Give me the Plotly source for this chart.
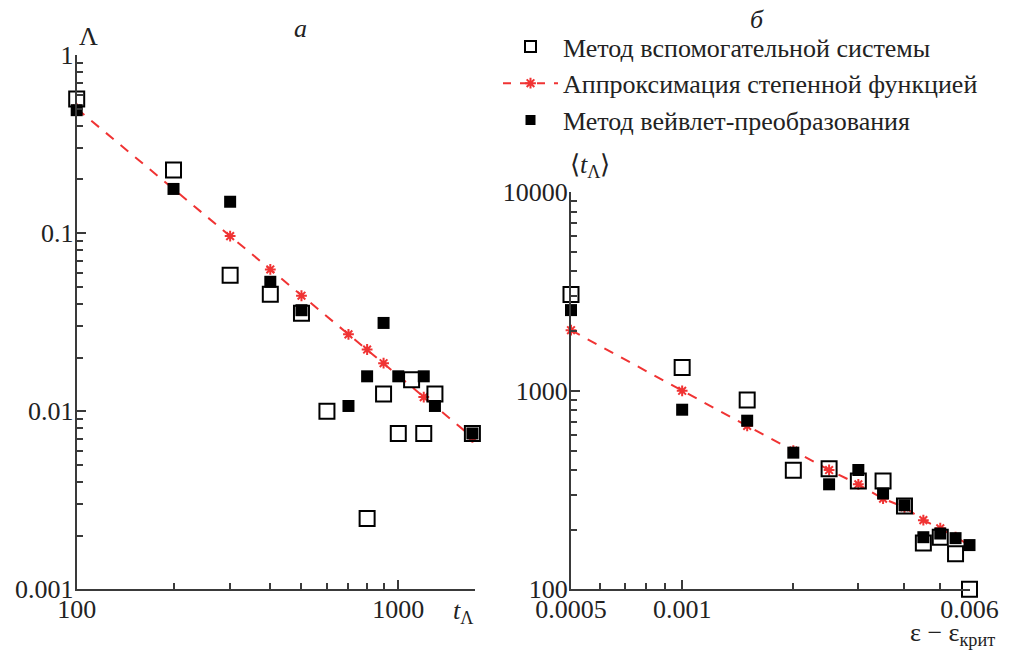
import plotly.graph_objects as go
import numpy as np

W, H = 1017, 654
OFF = 8  # page body margin
WF, HF = W - OFF, H - OFF

# ---- Panel a (left) ----
a_aux_t = [100, 200, 300, 400, 500, 600, 800, 900, 1000, 1100, 1200, 1300, 1700]
a_aux_L = [0.566, 0.226, 0.058, 0.0454, 0.0355, 0.010, 0.0025, 0.0125, 0.0075, 0.015, 0.0075, 0.0125, 0.0075]

a_fit_t = [100, 200, 300, 400, 500, 700, 800, 900, 1200, 1700]
a_fit_L = [0.50, 0.177, 0.0962, 0.0625, 0.0445, 0.0270, 0.0222, 0.0186, 0.0120, 0.00714]

a_wav_t = [100, 200, 300, 400, 500, 700, 800, 900, 1000, 1200, 1300, 1700]
a_wav_L = [0.49, 0.177, 0.150, 0.0533, 0.0369, 0.0107, 0.0157, 0.0313, 0.0157, 0.0157, 0.0107, 0.0075]

# ---- Panel б (right) ----
b_aux_e = [0.0005, 0.001, 0.0015, 0.002, 0.0025, 0.003, 0.0035, 0.004, 0.0045, 0.005, 0.0055, 0.006]
b_aux_t = [3060, 1310, 900, 398, 405, 351, 351, 263, 171, 183, 151, 100]

b_fit_e = [0.0005, 0.001, 0.0015, 0.002, 0.0025, 0.003, 0.0035, 0.004, 0.0045, 0.005, 0.0055, 0.006]
b_fit_t = [2020, 1000, 665, 500, 399, 338, 286, 259, 223, 203, 183, 167]

b_wav_e = [0.0005, 0.001, 0.0015, 0.002, 0.0025, 0.003, 0.0035, 0.004, 0.0045, 0.005, 0.0055, 0.006]
b_wav_t = [2550, 803, 707, 488, 338, 399, 304, 265, 183, 191, 181, 167]

legend_names = ["Метод вспомогательной системы",
                "Аппроксимация степенной функцией",
                "Метод вейвлет-преобразования"]

FONT = "Liberation Serif, Times New Roman, serif"
RED = "#f03333"
AX = "#3a3a3a"
TXT = "#222"
FS = 26

open_sq = dict(symbol="square-open", size=15, color="black", line=dict(width=2, color="black"))
fill_sq = dict(symbol="square", size=12, color="black", line=dict(width=0))
star = dict(symbol="asterisk-open", size=9, color=RED, line=dict(width=2, color=RED))
dash_line = dict(color=RED, width=2, dash="10px,9px")

fig = go.Figure()

def add_panel(xa, ya, aux_x, aux_y, fit_x, fit_y, wav_x, wav_y):
    fig.add_trace(go.Scatter(x=fit_x, y=fit_y, mode="lines+markers", line=dash_line, marker=star,
                             xaxis=xa, yaxis=ya, showlegend=False, cliponaxis=False))
    fig.add_trace(go.Scatter(x=wav_x, y=wav_y, mode="markers", marker=fill_sq,
                             xaxis=xa, yaxis=ya, showlegend=False, cliponaxis=False))
    fig.add_trace(go.Scatter(x=aux_x, y=aux_y, mode="markers", marker=open_sq,
                             xaxis=xa, yaxis=ya, showlegend=False, cliponaxis=False))

add_panel("x", "y", a_aux_t, a_aux_L, a_fit_t, a_fit_L, a_wav_t, a_wav_L)
add_panel("x2", "y2", b_aux_e, b_aux_t, b_fit_e, b_fit_t, b_wav_e, b_wav_t)

# legend entries
fig.add_trace(go.Scatter(x=[None], y=[None], mode="markers", name=legend_names[0],
                         marker=dict(symbol="square-open", size=11, color="black", line=dict(width=2, color="black"))))
fig.add_trace(go.Scatter(x=[None], y=[None], mode="lines+markers", name=legend_names[1],
                         line=dict(color=RED, width=2, dash="8px,9px"), marker=star))
fig.add_trace(go.Scatter(x=[None], y=[None], mode="markers", name=legend_names[2],
                         marker=dict(symbol="square", size=10, color="black")))

def px_x(p):
    return (p - OFF) / WF

def px_y(p):
    return (H - p) / HF

common = dict(type="log", showgrid=False, zeroline=False, showline=True, linecolor=AX, linewidth=2,
              ticks="inside", ticklen=9, tickwidth=1.5, tickcolor=AX, mirror=False,
              automargin=False, tickfont=dict(family=FONT, size=FS, color=TXT))

a_xticks = [100, 1000]
a_yticks = [0.001, 0.01, 0.1, 1]
a_ytext = ["0.001", "0.01", "0.1", "1"]
b_xticks = [0.0005, 0.001, 0.006]
b_xtext = ["0.0005", "0.001", "0.006"]
b_yticks = [100, 1000, 10000]

a_xminor = [200, 300, 400, 500, 600, 700, 800, 900]
a_yminor = [m * 10.0 ** d for d in (-3, -2, -1) for m in range(2, 10)]
b_xminor = [0.0006, 0.0007, 0.0008, 0.0009, 0.002, 0.003, 0.004, 0.005]
b_yminor = [m * 10 ** d for d in (2, 3) for m in range(2, 10)]

minor = dict(ticks="inside", ticklen=6, tickwidth=1.5, tickcolor=AX, tickmode="array")

fig.update_layout(
    width=WF, height=HF,
    paper_bgcolor="white", plot_bgcolor="white",
    margin=dict(l=0, r=0, t=0, b=0, autoexpand=False),
    font=dict(family=FONT, size=FS, color=TXT),
    xaxis=dict(common, domain=[px_x(76.7), px_x(475)], range=[2, np.log10(1732)],
               tickvals=a_xticks, ticktext=["100", "1000"], anchor="y", ticklabelstandoff=-5,
               minor=dict(minor, tickvals=a_xminor)),
    yaxis=dict(common, domain=[px_y(589.3), px_y(55)], range=[-3, 0],
               tickvals=a_yticks, ticktext=a_ytext, anchor="x", ticklabelstandoff=-4,
               minor=dict(minor, tickvals=a_yminor)),
    xaxis2=dict(common, domain=[px_x(571), px_x(969.5)], range=[np.log10(0.0005), np.log10(0.006)],
                tickvals=b_xticks, ticktext=b_xtext, anchor="y2", ticklabelstandoff=-5,
                minor=dict(minor, tickvals=b_xminor)),
    yaxis2=dict(common, domain=[px_y(589.3), px_y(192.3)], range=[2, 4],
                tickvals=b_yticks, ticktext=["100", "1000", "10000"], anchor="x2", ticklabelstandoff=-4,
                minor=dict(minor, tickvals=b_yminor)),
    showlegend=True,
    legend=dict(x=px_x(498), y=px_y(23), xanchor="left", yanchor="top",
                font=dict(family=FONT, size=26, color=TXT),
                bgcolor="rgba(0,0,0,0)", itemwidth=55, tracegroupgap=0),
)

ann = [
    ("Λ", 88, 37, False),
    ("а", 300, 28, True),
    ("б", 757, 20, True),
    ("⟨<i>t</i><sub>Λ</sub>⟩", 590, 166, False),
    ("<i>t</i><sub>Λ</sub>", 463, 612, False),
    ("ε − ε<sub>крит</sub>", 952, 634, False),
]
for text, x, y, ital in ann:
    fig.add_annotation(text=f"<i>{text}</i>" if ital else text, x=px_x(x), y=px_y(y),
                       xref="paper", yref="paper", showarrow=False,
                       xanchor="center", yanchor="middle",
                       font=dict(family=FONT, size=FS, color=TXT))

fig.write_html("out.html")
